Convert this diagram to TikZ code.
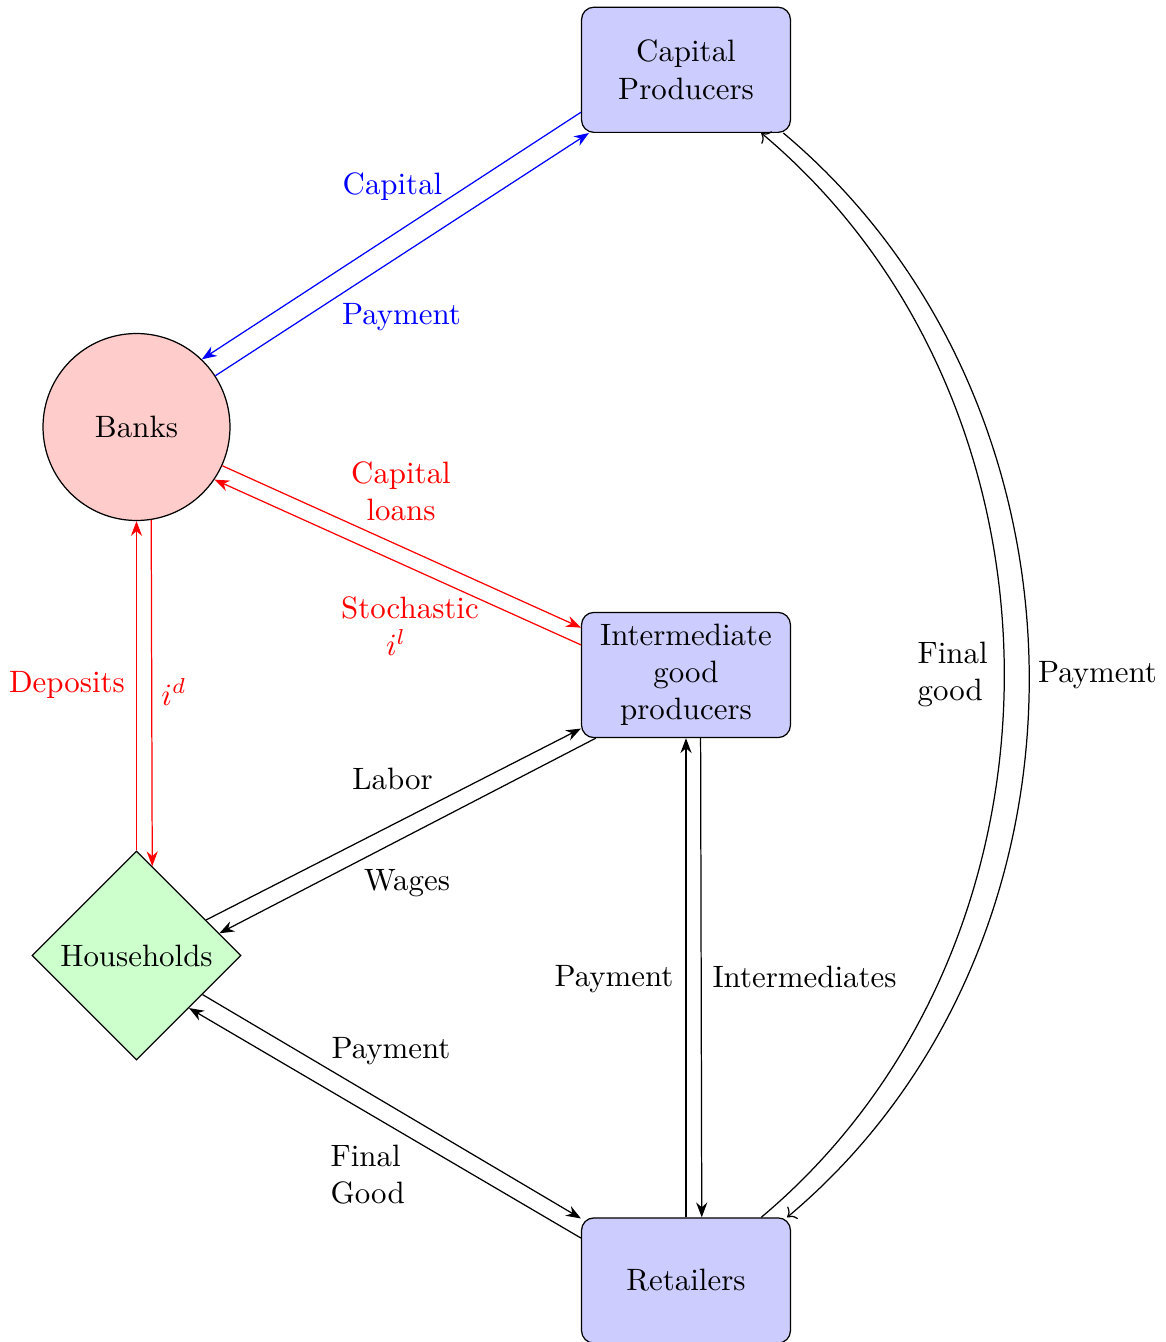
\documentclass[tikz,border=0pt]{standalone}
\usetikzlibrary{shapes.geometric,arrows.meta}
\begin{document}
\begin{tikzpicture}[x=0.3236pt,y=0.3236pt,
  box/.style={draw, rounded corners, fill=blue!20, minimum width=67.6pt, minimum height=40.5pt, align=center},
  bank/.style={draw, circle, fill=red!20, minimum size=60.5pt},
  house/.style={draw, diamond, aspect=1, fill=green!20, minimum width=67.6pt, minimum height=67.6pt, inner sep=1pt},
  lbl/.style={inner sep=0pt},
  flow/.style={-{Stealth}},
  arcflow/.style={->}
]
\useasboundingbox (0,0) rectangle (1165,-1342);
\node[box] (cp) at (686,-69.8) {Capital\\Producers};
\node[bank] (banks) at (136.5,-427) {Banks};
\node[box] (int) at (686,-675) {Intermediate\\good\\producers};
\node[house] (hh) at (136.5,-955.5) {Households};
\node[box] (ret) at (686,-1280.5) {Retailers};

% blue
\draw[flow, blue] (cp.202.3) -- (banks.46);
\draw[flow, blue] (banks) -- (cp);
% red
\draw[flow, red] (banks) -- (int);
\draw[flow, red] (int.164.2) -- (banks.326.5);
\draw[flow, red] (hh) -- (banks);
\draw[flow, red] (banks.279.4) -- (hh.80.5);
% black
\draw[flow] (hh) -- (int);
\draw[flow] (int.215.1) -- (hh.15.7);
\draw[flow] (hh) -- (ret);
\draw[flow] (ret.158.4) -- (hh.315);
\draw[flow] (ret) -- (int);
\draw[flow] (int.283.4) -- (ret.76.4);
% arcs
\draw[arcflow] (ret) to[bend right=50] (cp);
\draw[arcflow] (cp.327.5) to[out=-40, in=40] (ret.32.5);

% labels
\node[lbl, blue] (l1) at (392.5,-187) {Capital};
\node[lbl, blue] (l2) at (401.5,-317) {Payment};
\node[lbl, red, align=center] (l3) at (401,-491) {Capital\\loans};
\node[lbl, red, align=center] (l4) at (410,-626) {Stochastic\\$i^l$\hspace*{9pt}};
\node[lbl, red] (l5) at (67,-684.5) {Deposits};
\node[lbl, red] (l6) at (174,-692) {$i^d$};
\node[lbl] (l7) at (392.5,-779) {Labor};
\node[lbl] (l8) at (407,-883) {Wages};
\node[lbl] (l9) at (391,-1051) {Payment};
\node[lbl, align=left, anchor=west] (l10) at (330,-1175) {Final\\Good};
\node[lbl] (l11) at (614,-979) {Payment};
\node[lbl] (l12) at (804.5,-976.5) {Intermediates};
\node[lbl, align=left, anchor=west] (l13) at (917,-674.5) {Final\\good};
\node[lbl] (l14) at (1097.5,-675) {Payment};
\end{tikzpicture}
\end{document}
